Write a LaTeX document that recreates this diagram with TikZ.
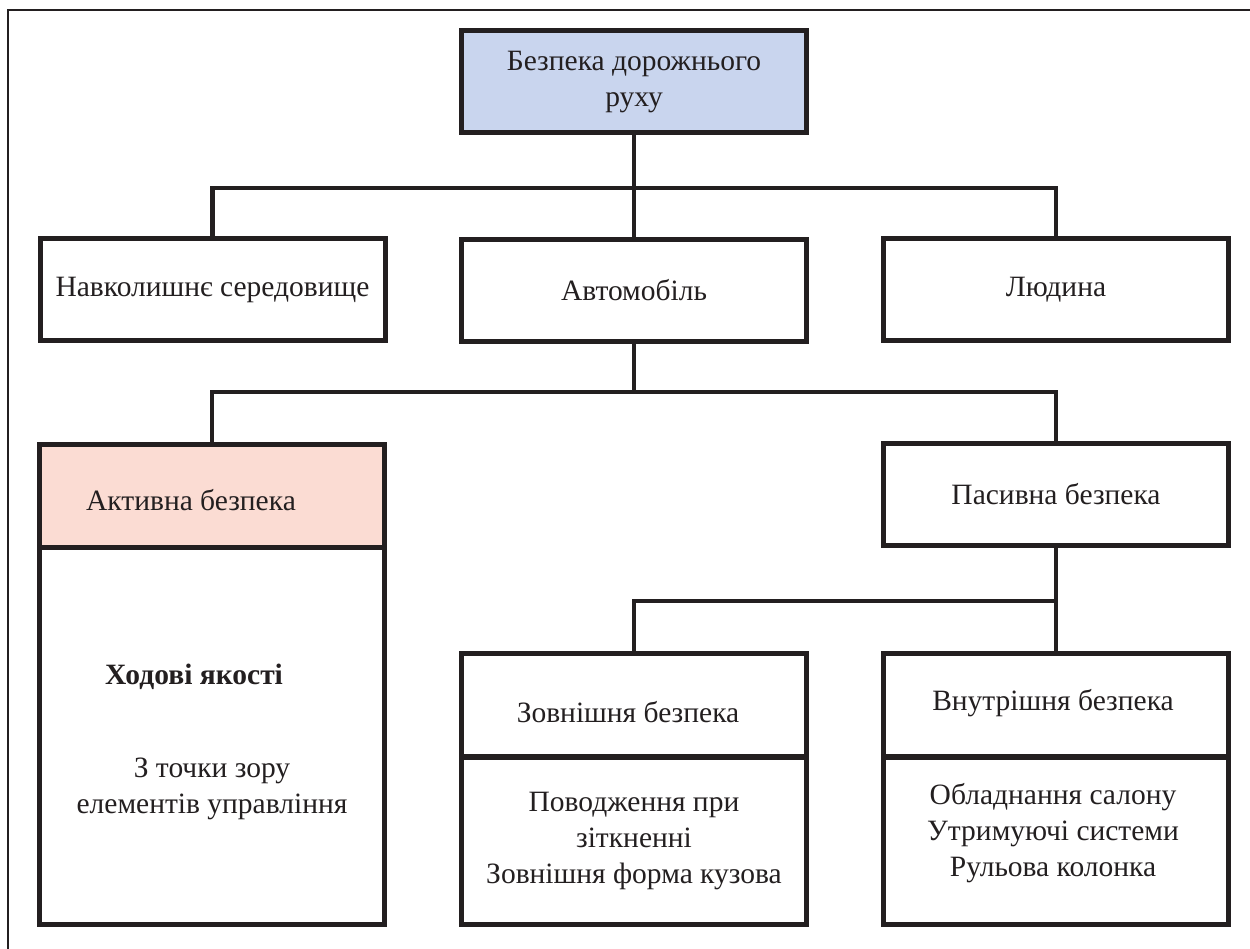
\documentclass[tikz,border=0pt]{standalone}
\usepackage{fontspec}
\setmainfont{Liberation Serif}
\definecolor{ink}{HTML}{231F20}
\definecolor{topblue}{HTML}{C9D5EE}
\definecolor{actpink}{HTML}{FBDCD3}
\begin{document}
\begin{tikzpicture}[x=1pt,y=-1pt,
  box/.style={draw=ink, line width=5pt, fill=white, inner sep=0pt,
    minimum width=345pt, minimum height=102pt, align=center, text=ink,
    font=\fontsize{29.5}{36}\selectfont},
  conn/.style={draw=ink, line width=4.3pt},
  txt/.style={text=ink, align=center, font=\fontsize{29.5}{36}\selectfont, inner sep=0pt}]
\useasboundingbox (0,0) rectangle (1250,949);
\draw[ink, line width=2pt] (8,949) -- (8,10) -- (1250,10);

% level 0
\node[box, fill=topblue] (top) at (634,82) {Безпека дорожнього\\руху};
% level 1
\node[box] (nav) at (212.5,289.5) {Навколишнє середовище};
\node[box] (avto) at (634,290.5) {Автомобіль};
\node[box] (lud) at (1056,290) {Людина};
% level 2
\node[box, fill=actpink, minimum height=103pt] (akt) at (212,496) {};
\node[txt] (akttxt) at (191,500) {Активна безпека};
\node[box, minimum height=377pt] (aktbody) at (212,736) {};
\node[txt, font=\fontsize{29.5}{36}\selectfont\bfseries] (hod) at (194,677) {Ходові якості};
\node[txt] (tochky) at (212,789) {З точки зору\\елементів управління};
\node[box] (pas) at (1056,494) {Пасивна безпека};
% level 3
\node[box, minimum height=103.5pt] (zov) at (634,705) {};
\node[txt] (zovtxt) at (628,712) {Зовнішня безпека};
\node[box, minimum height=167.5pt] (zovbody) at (634,841) {Поводження при\\зіткненні\\Зовнішня форма кузова};
\node[box, minimum height=103.5pt] (vnu) at (1056,705) {};
\node[txt] (vnutxt) at (1053,703) {Внутрішня безпека};
\node[box, minimum height=167.5pt] (vnubody) at (1056,841) {};
\node[txt] (vnulist) at (1053,833) {Обладнання салону\\Утримуючі системи\\Рульова колонка};

% connectors
\coordinate (b1) at (634,188);
\coordinate (b2) at (634,392);
\coordinate (b3) at (1056,601);
\draw[conn] (top.south) -- (avto.north);
\draw[conn] (nav.north) |- (b1) -| (lud.north);
\draw[conn] (avto.south) -- (b2);
\draw[conn] (akt.north) |- (b2) -| (pas.north);
\draw[conn] (pas.south) -- (vnu.north);
\draw[conn] (zov.north) |- (b3);
\end{tikzpicture}
\end{document}
